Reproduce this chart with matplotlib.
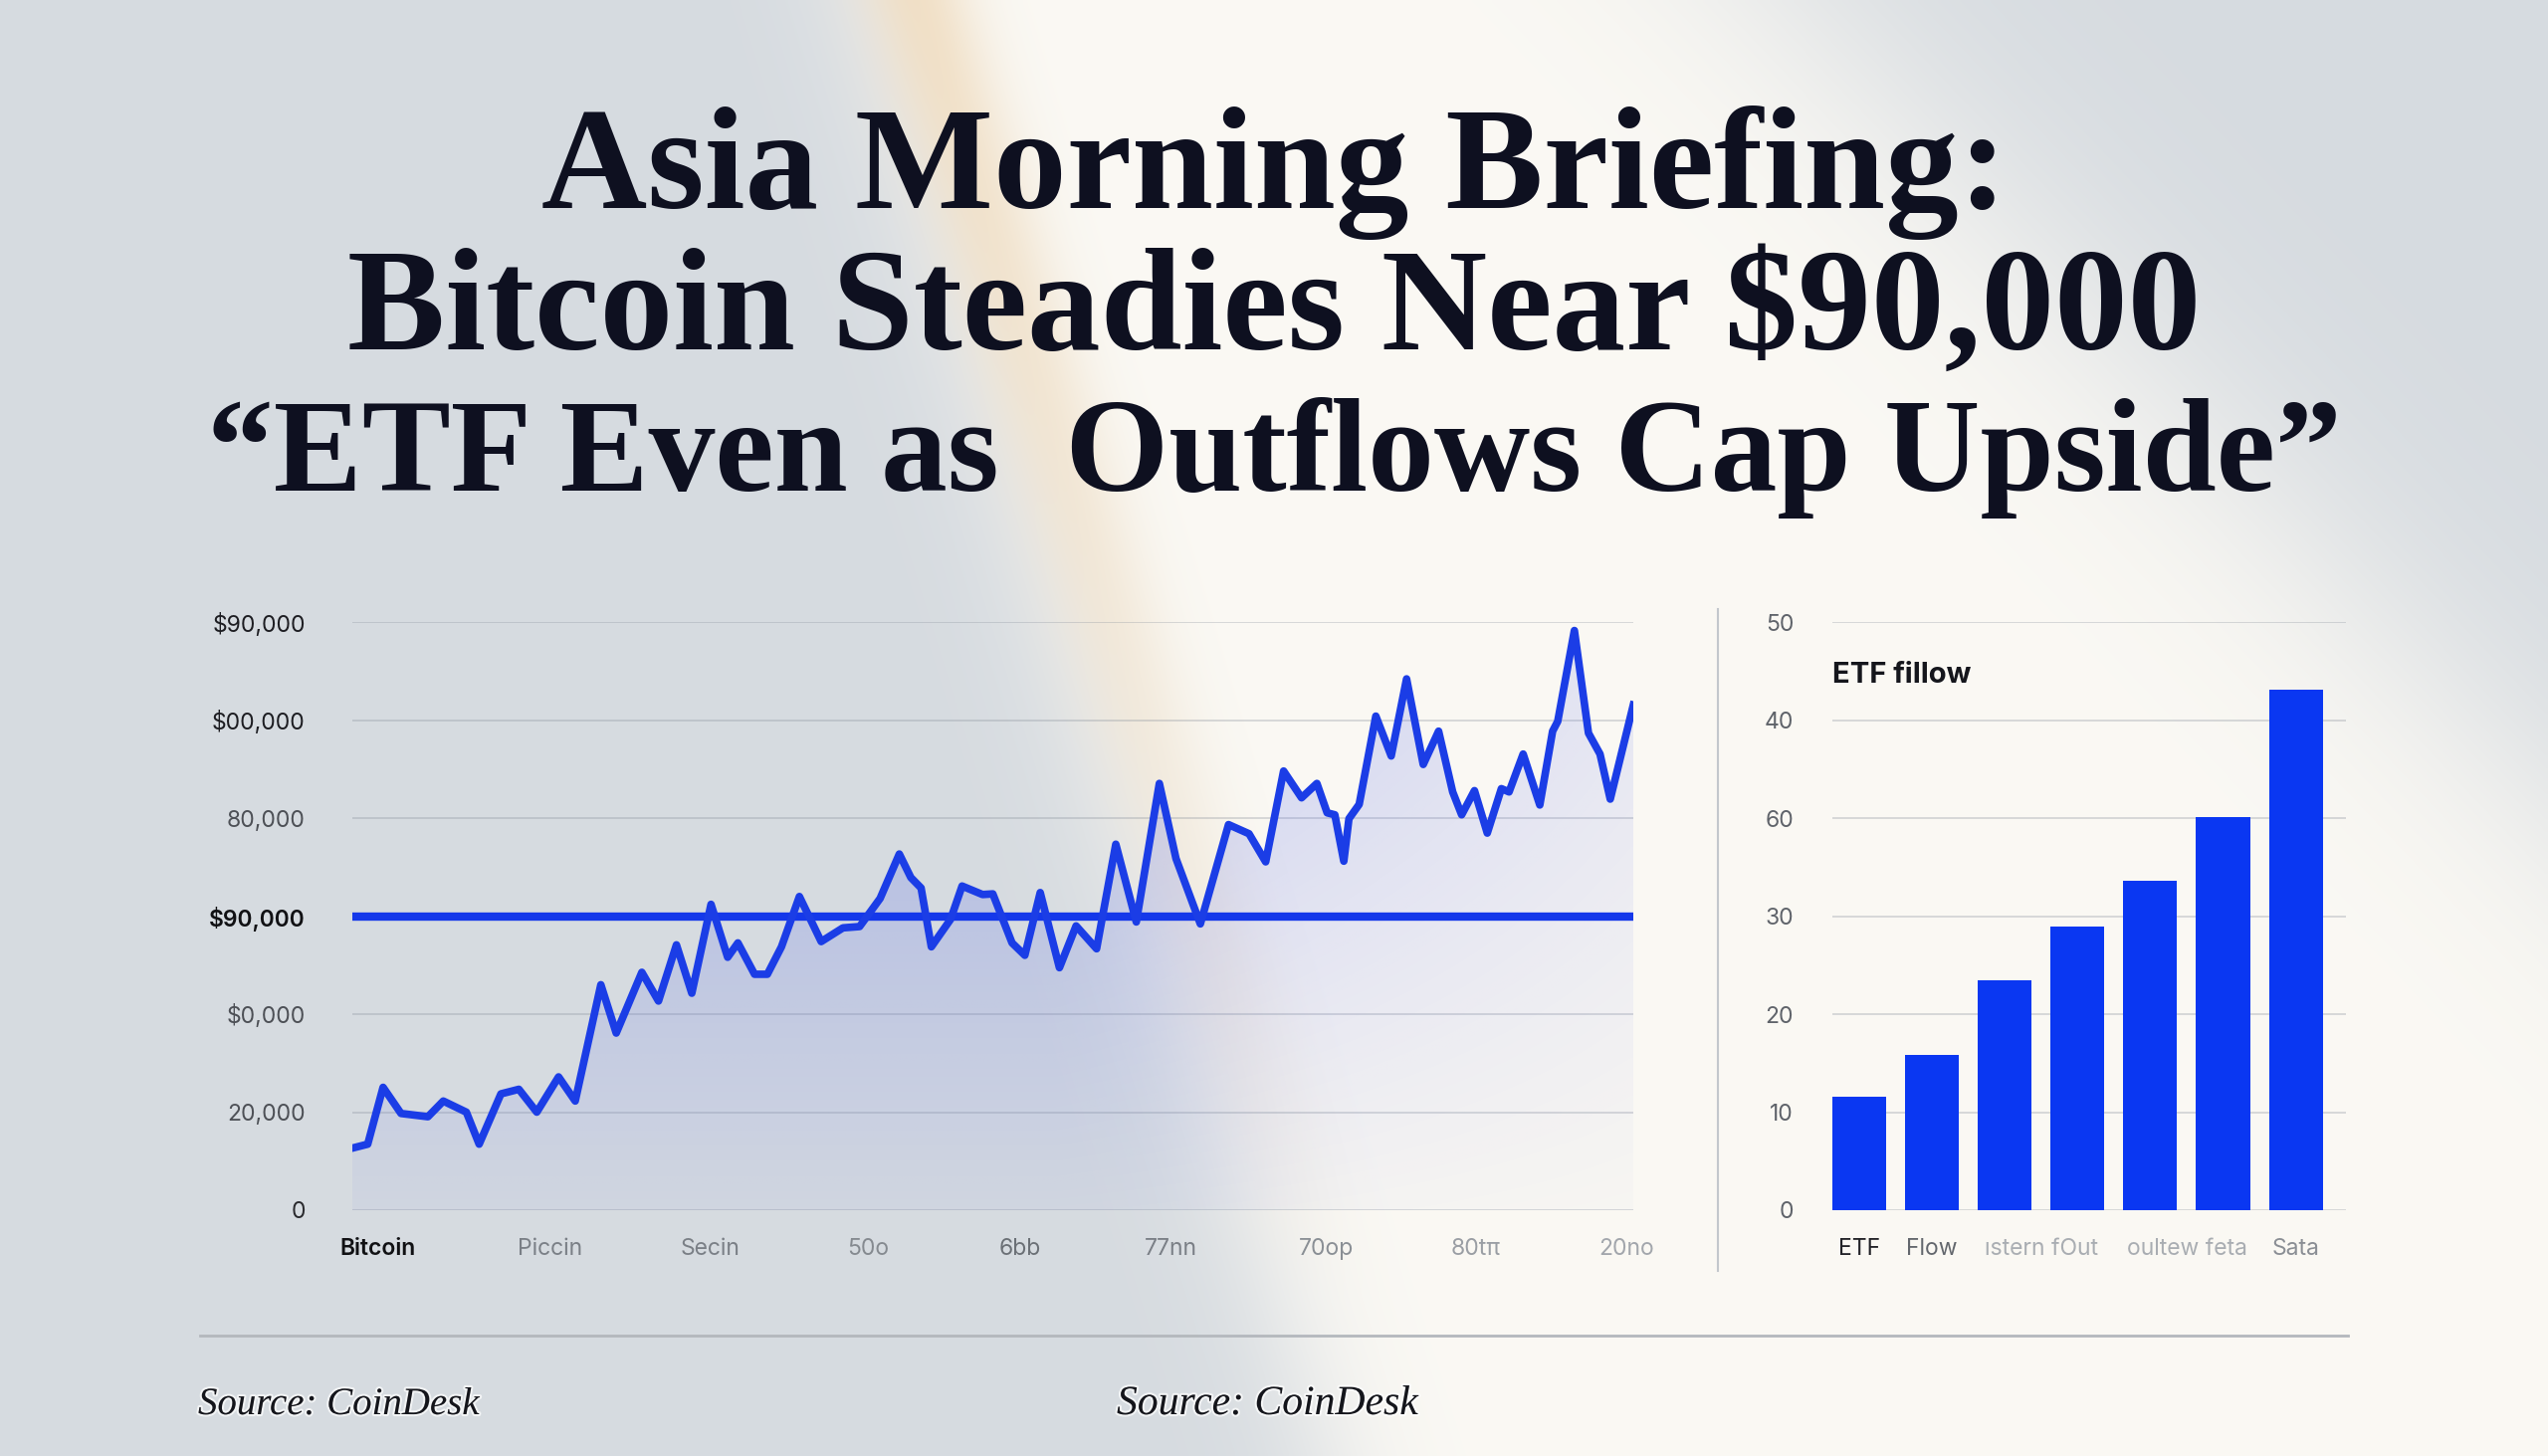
import numpy as np
import matplotlib
matplotlib.use("Agg")
import matplotlib.pyplot as plt
from matplotlib.patches import Polygon
import matplotlib.patheffects as pe

# ---------------- data ----------------
title_lines = ["Asia Morning Briefing:",
               "Bitcoin Steadies Near $90,000",
               "\u201cETF Even as  Outflows Cap Upside\u201d"]

btc_day = [0.0, 1.2, 2.4, 3.8, 5.9, 7.1, 8.9, 9.9, 11.6, 13.0, 14.4, 16.1, 17.4,
           19.4, 20.6, 22.6, 23.9, 25.3, 26.5, 28.0, 29.3, 30.1, 31.4, 32.4, 33.5,
           34.9, 36.6, 38.3, 39.6, 41.2, 42.7, 43.6, 44.4, 45.2, 46.7, 47.6, 49.2,
           50.0, 51.5, 52.5, 53.7, 55.2, 56.5, 58.1, 59.6, 61.2, 63.0, 64.3, 66.2,
           68.4, 70.0, 71.3, 72.7, 74.1, 75.3, 76.1, 76.7, 77.4, 77.8, 78.6, 79.9,
           81.1, 82.3, 83.6, 84.8, 85.9, 86.6, 87.6, 88.6, 89.7, 90.3, 91.4, 92.7,
           93.7, 94.1, 95.4, 96.5, 97.4, 98.2, 100.0]
btc_price = [9500, 10100, 18800, 14800, 14300, 16700, 15000, 10100, 17800, 18500,
             15000, 20400, 16700, 34500, 27100, 36400, 32000, 40600, 33200, 46800,
             38700, 40900, 36100, 36100, 40300, 48000, 41100, 43200, 43400, 47700,
             54500, 50900, 49300, 40300, 44500, 49600, 48300, 48400, 40900, 39000,
             48600, 37100, 43500, 40000, 56000, 44100, 65300, 53800, 43800, 59000,
             57600, 53300, 67200, 63100, 65300, 60800, 60500, 53400, 59900, 62100,
             75600, 69500, 81300, 68200, 73300, 64000, 60500, 64200, 57700, 64500,
             64000, 69800, 62000, 73300, 74800, 88700, 73000, 69800, 62900, 77300]
ref_level = 45000
price_ticks = [0, 15000, 30000, 45000, 60000, 75000, 90000]
price_tick_labels = ["0", "20,000", "$0,000", "$90,000", "80,000", "$00,000", "$90,000"]
day_ticks = [2.0, 15.4, 27.9, 40.3, 52.1, 63.9, 76.0, 87.7, 99.5]
day_tick_labels = ["Bitcoin", "Piccin", "Secin", "50o", "6bb", "77nn", "70op", "80t\u03c0", "20no"]

etf_values = [11.6, 15.8, 23.5, 28.9, 33.6, 40.1, 53.1]
etf_ticks = [0, 10, 20, 30, 40, 50, 60]
etf_tick_labels = ["0", "10", "20", "30", "60", "40", "50"]
etf_cat_pos = [0, 1, 2.5, 4.5, 6]
etf_cat_labels = ["ETF", "Flow", "\u0131stern fOut", "oultew feta", "Sata"]
etf_title = "ETF fillow"
source_text = "Source: CoinDesk"

# ---------------- figure ----------------
W, H = 2560, 1463
fig = plt.figure(figsize=(W / 100, H / 100), dpi=100)

# background with diagonal light beam
bh, bw = 366, 640
yy, xx = np.mgrid[0:bh, 0:bw]
X = xx * (W / bw)
Y = yy * (H / bh)
d_left = X - (875 + 0.31 * Y)
d_right = (1800 + 0.95 * Y) - X
sig = lambda v: 1 / (1 + np.exp(-v))
inside = sig(d_left / 40) * sig(d_right / 90)
base = np.array([214, 219, 224]) / 255.0
cream = np.array([251, 249, 244]) / 255.0
peach = np.array([240, 212, 172]) / 255.0
bg = base[None, None, :] * (1 - inside[..., None]) + cream[None, None, :] * inside[..., None]
pw = 0.6 * np.exp(-((d_left - 45) / 55) ** 2) * np.clip(1 - Y / 1300, 0, 1)
bg = bg * (1 - pw[..., None]) + peach[None, None, :] * pw[..., None]
bg_ax = fig.add_axes([0, 0, 1, 1], zorder=-10)
bg_ax.imshow(bg, extent=[0, W, H, 0], aspect="auto", interpolation="bilinear")
bg_ax.set_xlim(0, W)
bg_ax.set_ylim(H, 0)
bg_ax.axis("off")

# separators
bg_ax.plot([1726, 1726], [612, 1277], color="#c3c7cc", lw=1.5)
bg_ax.plot([201, 2359], [1342, 1342], color="#b4b8bd", lw=2)

# title
for line, yb, fs in zip(title_lines, [209, 351, 493], [106, 106, 96]):
    fig.text(0.5, 1 - yb / H, line, ha="center", va="baseline", fontsize=fs,
             family="Liberation Serif", fontweight="bold", color="#0e1020")

# sources
halo = [pe.withStroke(linewidth=3, foreground=(1, 1, 1, 0.7))]
fig.text(199 / W, 1 - 1421 / H, source_text, ha="left", va="baseline", fontsize=28,
         family="Liberation Serif", style="italic", color="#14151b", path_effects=halo)
fig.text(1122 / W, 1 - 1421 / H, source_text, ha="left", va="baseline", fontsize=30,
         family="Liberation Serif", style="italic", color="#14151b", path_effects=halo)

grid_color = (0.55, 0.58, 0.62, 0.35)

# ---------------- line chart ----------------
ax = fig.add_axes([354 / W, 1 - 1216 / H, 1287 / W, 591 / H])
ax.set_facecolor("none")
for s in ax.spines.values():
    s.set_visible(False)
for v in price_ticks:
    if v != ref_level:
        ax.axhline(v, color=grid_color, lw=1.3, zorder=0.5)

days = np.asarray(btc_day, dtype=float)
prices = np.asarray(btc_price, dtype=float)
verts = np.column_stack([np.r_[days, days[::-1]], np.r_[prices, np.zeros_like(prices)]])
clip = Polygon(verts, closed=True, transform=ax.transData, facecolor="none", edgecolor="none")
ax.add_patch(clip)
gy, gx = np.mgrid[0:1:200j, 0:1:300j]
alpha = (0.05 + 0.30 * gy) * (1 - 0.6 * np.clip((gx - 0.55) / 0.45, 0, 1))
rgba = np.zeros((200, 300, 4))
rgba[..., 0] = 88 / 255
rgba[..., 1] = 108 / 255
rgba[..., 2] = 236 / 255
rgba[..., 3] = alpha
im = ax.imshow(rgba, extent=[days.min(), days.max(), 0, max(price_ticks)], origin="lower",
               aspect="auto", zorder=1, interpolation="bilinear")
im.set_clip_path(clip)

ax.axhline(ref_level, color="#1538ea", lw=6, zorder=2.5)
ax.plot(days, prices, color="#1b3de6", lw=5.5, zorder=3, solid_joinstyle="round")

ax.set_xlim(0, 100)
ax.set_ylim(0, 90000)
ax.set_yticks(price_ticks, price_tick_labels)
ax.set_xticks(day_ticks, day_tick_labels)
ax.tick_params(axis="y", length=0, pad=34, labelsize=16.5)
ax.tick_params(axis="x", length=0, pad=20, labelsize=16.5)
ycols = ["#2a2a2e", "#4d5056", "#4d5056", "#111114", "#4d5056", "#1d1d22", "#1d1d22"]
for lab, c in zip(ax.get_yticklabels(), ycols):
    lab.set_color(c)
    lab.set_family("Inter")
ax.get_yticklabels()[3].set_fontweight("semibold")
xcols = ["#111114", "#7a7f86", "#7a7f86", "#858a90", "#6b7076", "#7a7f86", "#8a8f95", "#9a9ea4", "#a2a6ac"]
for lab, c in zip(ax.get_xticklabels(), xcols):
    lab.set_color(c)
    lab.set_family("Inter")
ax.get_xticklabels()[0].set_fontweight("semibold")

# ---------------- bar chart ----------------
bx = fig.add_axes([1841 / W, 1 - 1216 / H, 516 / W, 591 / H])
bx.set_facecolor("none")
for s in bx.spines.values():
    s.set_visible(False)
for v in etf_ticks:
    bx.axhline(v, color=grid_color, lw=1.3, zorder=0.5)
bx.bar(range(len(etf_values)), etf_values, width=0.74, color="#0a37f2", zorder=2)
bx.set_xlim(-0.37, 6.69)
bx.set_ylim(0, 60)
bx.set_yticks(etf_ticks, etf_tick_labels)
bx.set_xticks(etf_cat_pos, etf_cat_labels)
bx.tick_params(axis="y", length=0, pad=28, labelsize=16.5, labelcolor="#5f636a")
bx.tick_params(axis="x", length=0, pad=20, labelsize=16.5)
for lab in bx.get_yticklabels():
    lab.set_family("Inter")
bcols = ["#222227", "#63676d", "#a9adb2", "#a9adb2", "#8a8e94"]
for lab, c in zip(bx.get_xticklabels(), bcols):
    lab.set_color(c)
    lab.set_family("Inter")
bx.text(0, 0.909, etf_title, transform=bx.transAxes, ha="left", va="center",
        fontsize=21, fontweight="bold", family="Inter", color="#15161c")

fig.savefig("out.png", dpi=100)
